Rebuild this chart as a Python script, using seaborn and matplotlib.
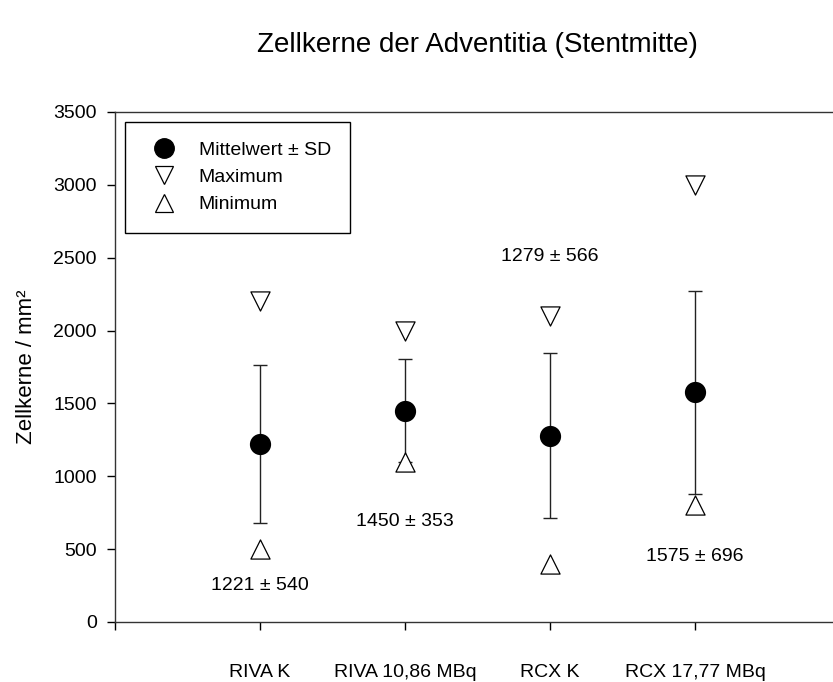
import matplotlib
matplotlib.use("Agg")
import matplotlib.pyplot as plt
from matplotlib.lines import Line2D
import numpy as np
import pandas as pd
import seaborn as sns

groups = ["RIVA K", "RIVA 10,86 MBq", "RCX K", "RCX 17,77 MBq"]
means = [1221, 1450, 1279, 1575]
sds = [540, 353, 566, 696]
maxima = [2200, 2000, 2100, 3000]
minima = [500, 1100, 400, 800]
label_y = [250, 690, 2510, 450]

sns.set_style("ticks")
plt.rcParams["font.family"] = ["Liberation Sans", "DejaVu Sans"]
for key in ["text.color", "axes.labelcolor", "xtick.color", "ytick.color"]:
    plt.rcParams[key] = "black"

df = pd.DataFrame({"pos": np.arange(1, len(groups) + 1), "group": groups,
                   "mean": means, "sd": sds, "max": maxima, "min": minima})

fig = plt.figure(figsize=(8.33, 6.82), dpi=100)
ax = fig.add_axes([0.138, 0.088, 1.0084 - 0.138, 0.8358 - 0.088])

ax.errorbar(df["pos"], df["mean"], yerr=df["sd"], fmt="none", ecolor="#222222",
            elinewidth=1.0, capsize=5, capthick=1.0, zorder=2)
sns.scatterplot(data=df, x="pos", y="max", marker="v", s=190, facecolor="white",
                edgecolor="black", linewidth=0.9, ax=ax, zorder=3, legend=False)
sns.scatterplot(data=df, x="pos", y="min", marker="^", s=190, facecolor="white",
                edgecolor="black", linewidth=0.9, ax=ax, zorder=3, legend=False)
sns.scatterplot(data=df, x="pos", y="mean", marker="o", s=200, color="black",
                edgecolor="black", ax=ax, zorder=4, legend=False)

for p, m, s, ly in zip(df["pos"], means, sds, label_y):
    ax.text(p, ly, f"{m} \u00b1 {s}", ha="center", va="center", fontsize=14)

ax.set_xlim(0, 5)
ax.set_ylim(0, 3500)
ax.set_xticks([0, 1, 2, 3, 4])
ax.set_xticklabels([""] + groups, fontsize=14)
ax.set_yticks(np.arange(0, 3501, 500))
ax.tick_params(axis="y", labelsize=14, length=6, width=1, pad=7)
ax.tick_params(axis="x", length=6, width=1, pad=24)
ax.set_xlabel("")
ax.set_ylabel("Zellkerne / mm\u00b2", fontsize=16, labelpad=12)
for side in ["left", "bottom", "top"]:
    ax.spines[side].set_color("#333333")
    ax.spines[side].set_linewidth(1.0)
ax.spines["right"].set_visible(False)

handles = [
    Line2D([], [], marker="o", linestyle="none", markersize=14, color="black"),
    Line2D([], [], marker="v", linestyle="none", markersize=13.5, markerfacecolor="white",
           markeredgecolor="black", markeredgewidth=0.9),
    Line2D([], [], marker="^", linestyle="none", markersize=13.5, markerfacecolor="white",
           markeredgecolor="black", markeredgewidth=0.9),
]
leg = ax.legend(handles, ["Mittelwert \u00b1 SD", "Maximum", "Minimum"],
                loc="upper left", bbox_to_anchor=(0.0, 1.0), fontsize=14,
                frameon=True, fancybox=False, edgecolor="black", framealpha=1,
                handlelength=2.0, handletextpad=0.8, labelspacing=0.5,
                borderpad=1.0, borderaxespad=0.5)
leg.get_frame().set_linewidth(1.0)

fig.text(0.5726, 0.934, "Zellkerne der Adventitia (Stentmitte)", ha="center",
         va="center", fontsize=20)

fig.savefig("out.png", dpi=100)
